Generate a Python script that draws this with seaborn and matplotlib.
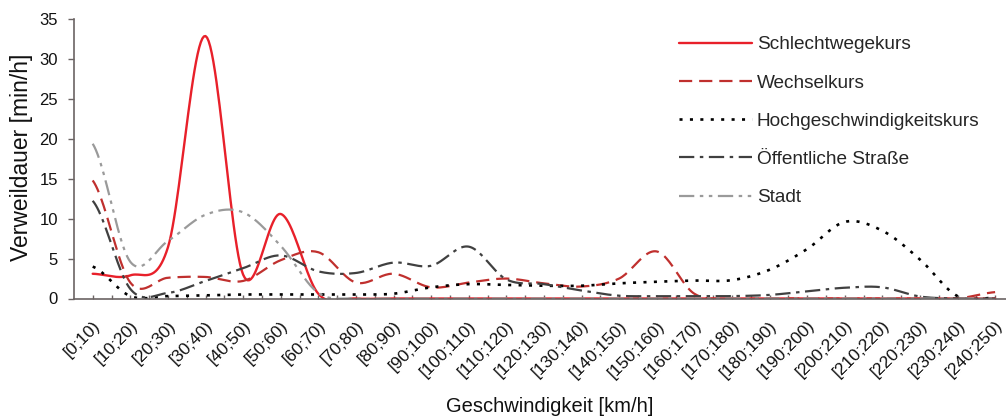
import numpy as np
import pandas as pd
import matplotlib
matplotlib.use("Agg")
import matplotlib.pyplot as plt
from matplotlib.transforms import ScaledTranslation
import seaborn as sns

# ---------------- data ----------------
categories = ["[0;10)", "[10;20)", "[20;30)", "[30;40)", "[40;50)", "[50;60)", "[60;70)",
              "[70;80)", "[80;90)", "[90;100)", "[100;110)", "[110;120)", "[120;130)",
              "[130;140)", "[140;150)", "[150;160)", "[160;170)", "[170;180)", "[180;190)",
              "[190;200)", "[200;210)", "[210;220)", "[220;230)", "[230;240)", "[240;250)"]

schlechtwegekurs = [3.1, 2.9, 6.4, 32.9, 3.0, 10.6, 0.6, 0.0, 0.0, 0.0, 0.0, 0.0, 0.0,
                    0.0, 0.0, 0.0, 0.0, 0.0, 0.0, 0.0, 0.0, 0.0, 0.0, 0.0, 0.0]
wechselkurs = [14.8, 2.0, 2.6, 2.7, 2.2, 4.8, 5.8, 2.0, 3.1, 1.4, 2.0, 2.5, 1.9,
               1.5, 2.5, 5.9, 0.6, 0.0, 0.0, 0.0, 0.0, 0.0, 0.0, 0.0, 0.8]
hochgeschwindigkeitskurs = [4.0, 0.3, 0.3, 0.4, 0.5, 0.5, 0.5, 0.5, 0.6, 1.4, 1.8, 1.7, 1.6,
                            1.6, 1.9, 2.1, 2.25, 2.3, 3.6, 6.2, 9.6, 8.5, 4.9, 0.3, 0.1]
oeffentliche_strasse = [12.25, 1.2, 0.7, 2.2, 3.8, 5.4, 3.4, 3.2, 4.5, 4.1, 6.5, 2.4, 1.8,
                        1.0, 0.35, 0.3, 0.3, 0.3, 0.45, 0.9, 1.35, 1.4, 0.25, 0.0, 0.0]
stadt = [19.4, 4.6, 7.2, 10.5, 10.8, 6.6, 0.7, 0.0, 0.0, 0.0, 0.0, 0.0, 0.0,
         0.0, 0.0, 0.0, 0.0, 0.0, 0.0, 0.0, 0.0, 0.0, 0.0, 0.0, 0.0]

series_names = ["Schlechtwegekurs", "Wechselkurs", "Hochgeschwindigkeitskurs",
                "Öffentliche Straße", "Stadt"]
series_values = [schlechtwegekurs, wechselkurs, hochgeschwindigkeitskurs,
                 oeffentliche_strasse, stadt]
y_ticks = [0, 5, 10, 15, 20, 25, 30, 35]

# ---------------- styling ----------------
colors = ["#E8202A", "#C0302E", "#000000", "#404040", "#9A9A9A"]
styles = ["-", (0, (9.5, 5)), (0, (2.2, 5.3)), (0, (11, 4, 2.5, 4)),
          (0, (11, 4, 2.5, 4, 2.5, 4))]
widths = [1.7, 1.6, 1.9, 1.6, 1.6]

sns.set_theme(style="white")
plt.rcParams["font.family"] = ["Liberation Sans", "DejaVu Sans"]
plt.rcParams["lines.scale_dashes"] = False

W, H = 1006, 417
fig = plt.figure(figsize=(W / 100, H / 100), dpi=100)
left_px, right_px, top_px, bot_px = 73.9, 1013.9, 19.3, 298.5
ax = fig.add_axes([left_px / W, 1 - bot_px / H, (right_px - left_px) / W, (bot_px - top_px) / H])


def smooth(values, n=24):
    """Excel-style smoothed line (Catmull-Rom / Bezier through the data points)."""
    p = np.asarray(values, dtype=float)
    k = len(p)
    ext = np.concatenate([[p[0]], p, [p[-1]]])
    xs, ys = [], []
    for i in range(k - 1):
        p0, p1 = ext[i + 1], ext[i + 2]
        m0 = (ext[i + 2] - ext[i]) / 2.0
        m1 = (ext[i + 3] - ext[i + 1]) / 2.0
        t = np.linspace(0, 1, n, endpoint=(i == k - 2))
        h00 = 2 * t**3 - 3 * t**2 + 1
        h10 = t**3 - 2 * t**2 + t
        h01 = -2 * t**3 + 3 * t**2
        h11 = t**3 - t**2
        xs.append(i + t)
        ys.append(h00 * p0 + h10 * m0 + h01 * p1 + h11 * m1)
    return np.concatenate(xs), np.concatenate(ys)


handles = []
for name, vals, c, ls, lw in zip(series_names, series_values, colors, styles, widths):
    sx, sy = smooth(vals)
    df = pd.DataFrame({"x": sx, "y": sy})
    sns.lineplot(data=df, x="x", y="y", ax=ax, color=c, linewidth=lw, linestyle=ls,
                 estimator=None, sort=False, legend=False)
    handles.append(ax.lines[-1])
    ax.lines[-1].set_label(name)

ax.set_xlim(-0.5, len(categories) - 0.5)
ax.set_ylim(0, 35)
ax.set_yticks(y_ticks)
ax.set_yticklabels([str(v) for v in y_ticks], fontsize=12, color="#111111")
ax.set_xticks(range(len(categories)))
ax.set_xticklabels(categories, rotation=45, ha="right", va="top",
                   rotation_mode="anchor", fontsize=12.5, color="#111111")
ax.set_xticks(np.arange(0.5, len(categories) - 0.5, 1), minor=True)
shift = ScaledTranslation(-8 / 100, -2 / 100, fig.dpi_scale_trans)
for lab in ax.get_xticklabels():
    lab.set_transform(lab.get_transform() + shift)

spine_col = "#6b6464"
for s in ["top", "right"]:
    ax.spines[s].set_visible(False)
for s in ["left", "bottom"]:
    ax.spines[s].set_color(spine_col)
    ax.spines[s].set_linewidth(1.2)
ax.tick_params(axis="y", which="major", direction="out", length=4.5, width=1,
               color=spine_col, pad=7, left=True)
ax.tick_params(axis="x", which="both", direction="in", length=3, width=1,
               color=spine_col, bottom=True, pad=14)
ax.grid(False)

ax.set_ylabel("Verweildauer [min/h]", fontsize=16.5, color="#111111", va="center")
ax.yaxis.set_label_coords((22 - left_px) / (right_px - left_px), (bot_px - 157) / (bot_px - top_px))
ax.set_xlabel("Geschwindigkeit [km/h]", fontsize=14.5, color="#111111", va="center")
ax.xaxis.set_label_coords((550 - left_px) / (right_px - left_px), (bot_px - 406) / (bot_px - top_px))

fs_leg = 13.7
ax.legend(handles=handles, loc="upper left", bbox_to_anchor=(679 / W, 1 - 36 / H),
          bbox_transform=fig.transFigure, frameon=False, fontsize=fs_leg,
          handlelength=3.84, handletextpad=0.25, labelspacing=1.1,
          borderpad=0, borderaxespad=0)

fig.savefig("out.png", dpi=100)
